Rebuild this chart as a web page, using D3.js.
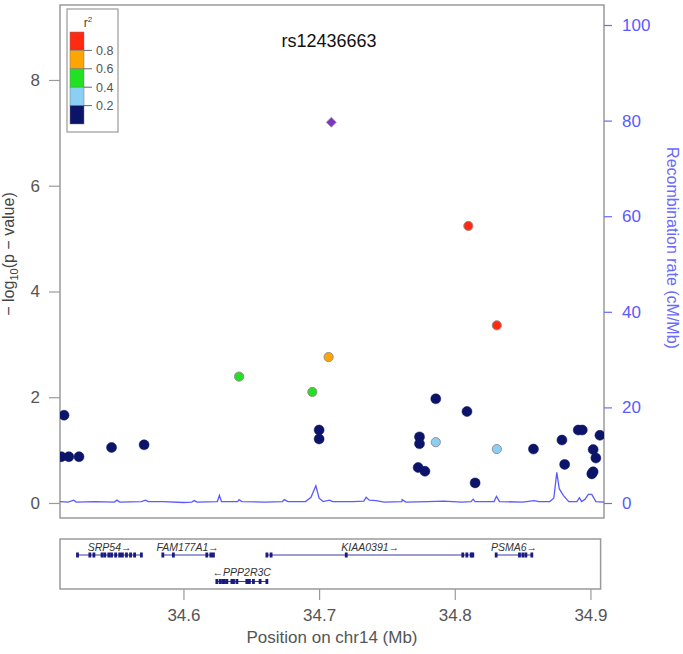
<!DOCTYPE html>
<html><head><meta charset="utf-8">
<script src="https://cdn.jsdelivr.net/npm/d3@7"></script>
<style>body{margin:0;background:#fff}svg{display:block;font-family:"Liberation Sans",Arial,sans-serif}</style>
</head><body><svg id="c" width="683" height="654"></svg>
<script>
// ---- data ----
const title = "rs12436663";
const indexPos = [34.709];
const indexLogP = [7.20];
const snpPos = [34.510,34.512,34.5155,34.523,34.547,34.571,34.641,34.695,34.707,34.700,34.700,34.774,34.774,34.773,34.778,34.786,34.786,34.809,34.810,34.815,34.831,34.831,34.858,34.879,34.881,34.891,34.894,34.907,34.902,34.904,34.901,34.902];
const snpLogP = [0.875,1.66,0.875,0.875,1.05,1.10,2.39,2.10,2.76,1.38,1.21,1.25,1.12,0.67,0.60,1.97,1.15,1.73,5.24,0.38,3.36,1.02,1.02,1.19,0.73,1.38,1.38,1.28,1.01,0.85,0.55,0.59];
const snpR2 = [0.05,0.05,0.05,0.05,0.05,0.05,0.5,0.5,0.7,0.05,0.05,0.05,0.05,0.05,0.05,0.05,0.3,0.05,0.85,0.05,0.85,0.3,0.05,0.05,0.05,0.05,0.05,0.05,0.05,0.05,0.05,0.05];
const recPos = [34.509,34.515,34.519,34.521,34.535,34.549,34.551,34.553,34.569,34.572,34.574,34.585,34.600,34.606,34.608,34.610,34.625,34.6265,34.628,34.640,34.641,34.643,34.660,34.673,34.6744,34.677,34.690,34.694,34.6976,34.700,34.703,34.7076,34.710,34.725,34.733,34.7347,34.737,34.742,34.748,34.761,34.7612,34.764,34.780,34.792,34.805,34.812,34.8135,34.815,34.829,34.8307,34.833,34.850,34.8586,34.862,34.870,34.873,34.8752,34.877,34.880,34.884,34.890,34.8919,34.8935,34.896,34.8985,34.901,34.904,34.910];
const recRate = [0.3,0.2,0.6,0.2,0.3,0.2,0.6,0.2,0.3,0.6,0.3,0.3,0.1,0.2,0.5,0.2,0.3,1.6,0.3,0.3,0.7,0.3,0.2,0.3,0.7,0.3,0.3,1.2,3.6,1.0,0.3,0.6,0.3,0.3,0.4,1.2,0.6,0.5,0.2,0.3,0.7,0.2,0.3,0.4,0.2,0.3,0.8,0.3,0.3,1.4,0.3,0.2,0.5,0.3,0.3,1.0,6.4,3.0,1.6,0.3,0.3,1.1,0.3,0.8,1.8,1.8,0.3,0.2];
const geneNames = ["SRP54","FAM177A1","PPP2R3C","KIAA0391","PSMA6"];
const geneStart = [34.5219,34.5841,34.6241,34.6615,34.8305];
const geneEnd = [34.5693,34.6221,34.6619,34.8138,34.8568];
const geneStrand = ["+","+","-","+","+"];
const geneRow = [0,0,1,0,0];
const geneExons = [
  [34.5219,34.531,34.534,34.540,34.542,34.545,34.547,34.550,34.553,34.555,34.558,34.561,34.564,34.569],
  [34.5848,34.5926,34.6172,34.6202,34.6221],
  [34.6246,34.6271,34.6290,34.6302,34.6320,34.6357,34.6369,34.6394,34.6467,34.6486,34.6516,34.6565,34.6615],
  [34.6615,34.6646,34.720,34.8059,34.8089,34.8121,34.8133],
  [34.8305,34.8477,34.8502,34.8524,34.8568]
];
const yTicks = [0,2,4,6,8];
const yRTicks = [0,20,40,60,80,100];
const xTicks = [34.6,34.7,34.8,34.9];
const r2Breaks = [0.2,0.4,0.6,0.8];
const r2Colors = ["#0b1468","#8ccff5","#22e022","#ffa500","#ff2a10"];
const legendLabels = ["0.2","0.4","0.6","0.8"];

// ---- scales ----
const svg = d3.select("#c");
const x = d3.scaleLinear().domain([34.509,34.910]).range([60,604]);
const y = d3.scaleLinear().domain([-0.284,9.418]).range([518,5]);
const yR = d3.scaleLinear().domain([0,100]).range([503,25]);
const col = d3.scaleThreshold().domain(r2Breaks).range(r2Colors);
const gray = "#9a9a9a";

// frame
svg.append("rect").attr("x",x.range()[0]).attr("y",y.range()[1]).attr("width",x.range()[1]-x.range()[0]).attr("height",y.range()[0]-y.range()[1]).attr("fill","none").attr("stroke",gray).attr("stroke-width",1.5);

// left axis
const gl = svg.append("g").attr("transform",`translate(${x.range()[0]},0)`).call(d3.axisLeft(y).tickValues(yTicks).tickSize(11).tickPadding(9).tickFormat(d3.format("d")));
gl.select(".domain").remove();
gl.selectAll("line").attr("stroke",gray).attr("stroke-width",1.2);
gl.selectAll("text").attr("fill","#555").style("font-size","17px");

// right axis
const gr = svg.append("g").attr("transform",`translate(${x.range()[1]},0)`).call(d3.axisRight(yR).tickValues(yRTicks).tickSize(8).tickPadding(10));
gr.select(".domain").remove();
gr.selectAll("line").attr("stroke","#6a6aff").attr("stroke-width",1.2);
gr.selectAll("text").attr("fill","#5a5aff").style("font-size","17px");

// recombination line
const clipId="clipP";
svg.append("clipPath").attr("id",clipId).append("rect").attr("x",60).attr("y",5).attr("width",544).attr("height",513);
svg.append("path").datum(recPos.map((p,i)=>[p,recRate[i]])).attr("clip-path",`url(#${clipId})`)
  .attr("d",d3.line().x(d=>x(d[0])).y(d=>yR(d[1]))).attr("fill","none").attr("stroke","#5a5aff").attr("stroke-width",1.3);

// points
const pts = snpPos.map((p,i)=>({p,v:snpLogP[i],r:snpR2[i]})).sort((a,b)=>a.r-b.r);
svg.append("g").attr("clip-path",`url(#${clipId})`).selectAll("circle").data(pts).join("circle")
  .attr("cx",d=>x(d.p)).attr("cy",d=>y(d.v)).attr("r",d=>d.r<0.2?5:4.6)
  .attr("fill",d=>col(d.r)).attr("stroke",d=>d.r<0.2?"#0b1468":"#9a8f8f").attr("stroke-width",d=>d.r<0.2?0.5:1);
svg.append("g").selectAll("path").data(indexPos.map((p,i)=>({p,v:indexLogP[i]}))).join("path")
  .attr("transform",d=>`translate(${x(d.p)},${y(d.v)})`)
  .attr("d",d3.symbol(d3.symbolDiamond2,64)).attr("fill","#7b35c9").attr("stroke","#a99").attr("stroke-width",0.8);

// title
svg.append("text").attr("x",329).attr("y",47).attr("text-anchor","middle").style("font-size","18px").attr("fill","#111").text(title);

// legend
const lg = svg.append("g");
lg.append("rect").attr("x",67).attr("y",9).attr("width",51).attr("height",123).attr("fill","#fff").attr("stroke",gray).attr("stroke-width",1.2);
const lgT = lg.append("text").attr("x",88).attr("y",27).attr("text-anchor","middle").style("font-size","12px").attr("fill","#444");
lgT.append("tspan").text("r");
lgT.append("tspan").attr("dy",-5).style("font-size","8px").text("2");
const lgY = d3.scaleLinear().domain([1,0]).range([32,124]);
const lgSteps = [1,0.8,0.6,0.4,0.2,0];
lg.selectAll("rect.s").data(r2Colors.slice().reverse()).join("rect").attr("class","s")
  .attr("x",70).attr("y",(d,i)=>lgY(lgSteps[i])).attr("width",14).attr("height",(d,i)=>lgY(lgSteps[i+1])-lgY(lgSteps[i]))
  .attr("fill",d=>d).attr("stroke","#777").attr("stroke-width",0.5);
lg.selectAll("line.t").data(r2Breaks).join("line").attr("class","t").attr("x1",84).attr("x2",92).attr("y1",d=>lgY(d)).attr("y2",d=>lgY(d)).attr("stroke","#666");
lg.selectAll("text.l").data(r2Breaks).join("text").attr("class","l").attr("x",96).attr("y",d=>lgY(d)+4.5).style("font-size","12.5px").attr("fill","#555").text((d,i)=>legendLabels[i]);

// axis titles
const yl = svg.append("text").attr("transform","translate(14,254) rotate(-90)").attr("text-anchor","middle").style("font-size","16px").attr("fill","#444");
yl.append("tspan").text("\u2212 log");
yl.append("tspan").attr("dy",4).style("font-size","11px").text("10");
yl.append("tspan").attr("dy",-4).text("(p \u2212 value)");
svg.append("text").attr("transform","translate(667,248) rotate(90)").attr("text-anchor","middle").style("font-size","16px").attr("fill","#6a6aff").text("Recombination rate (cM/Mb)");

// gene panel
const gTop=539, gBot=589;
svg.append("rect").attr("x",x.range()[0]).attr("y",gTop).attr("width",x(34.9075)-x.range()[0]).attr("height",gBot-gTop).attr("fill","none").attr("stroke",gray).attr("stroke-width",1.5);
const rowLineY=[555,581.5], rowLabelY=[551,576];
const genes = geneNames.map((n,i)=>({n,s:geneStart[i],e:geneEnd[i],st:geneStrand[i],row:geneRow[i],ex:geneExons[i]}));
const gg = svg.append("g");
genes.forEach(g=>{
  gg.append("line").attr("x1",x(g.s)).attr("x2",x(g.e)).attr("y1",rowLineY[g.row]).attr("y2",rowLineY[g.row]).attr("stroke","#3a3aa8").attr("stroke-width",1);
  gg.selectAll(null).data(g.ex).join("rect").attr("x",d=>x(d)-1.4).attr("y",rowLineY[g.row]-2.5).attr("width",2.8).attr("height",5).attr("fill","#1a1a80");
  gg.append("text").attr("x",(x(g.s)+x(g.e))/2).attr("y",rowLabelY[g.row]).attr("text-anchor","middle").style("font-size","10.5px").style("font-style","italic").attr("fill","#333")
    .text(g.st==="+"? g.n+"\u2192" : "\u2190"+g.n);
});

// x axis
const gx = svg.append("g").attr("transform",`translate(0,${gBot})`).call(d3.axisBottom(x).tickValues(xTicks).tickSize(11).tickPadding(9).tickFormat(d3.format(".1f")));
gx.select(".domain").remove();
gx.selectAll("line").attr("stroke",gray).attr("stroke-width",1.2);
gx.selectAll("text").attr("fill","#555").style("font-size","17px");
svg.append("text").attr("x",332).attr("y",643).attr("text-anchor","middle").style("font-size","17px").attr("fill","#555").text("Position on chr14 (Mb)");
</script></body></html>
